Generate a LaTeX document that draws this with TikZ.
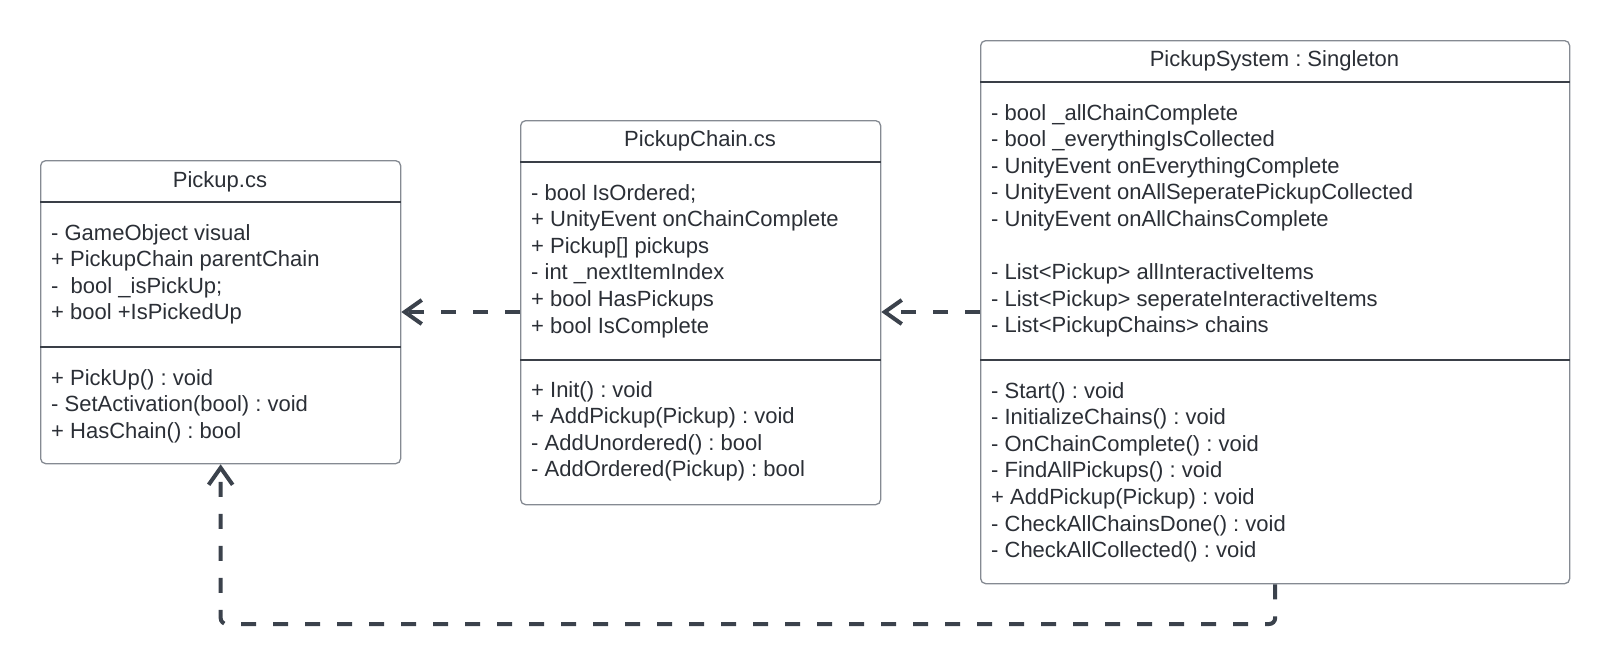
\documentclass[tikz,border=0pt]{standalone}
\usepackage{fontspec}
\setmainfont{Liberation Sans}
\usetikzlibrary{arrows.meta}
\frenchspacing
\definecolor{txtc}{HTML}{2B2F36}
\definecolor{bordc}{HTML}{858A92}
\definecolor{divc}{HTML}{3A3F47}
\definecolor{connc}{HTML}{3B424C}
\tikzset{
  umlbox/.style={draw=bordc, line width=1.3pt, rounded corners=5pt, rectangle, inner sep=0pt, anchor=north west, fill=white},
  divider/.style={draw=divc, line width=1.4pt},
  umltitle/.style={anchor=base, inner sep=0pt, text=txtc, font=\fontsize{22}{26.6}\selectfont\frenchspacing},
  umltext/.style={anchor=north west, inner sep=0pt, align=left, text=txtc, font=\fontsize{22}{26.6}\selectfont\frenchspacing},
  conn/.style={draw=connc, line width=4pt, dash pattern=on 15pt off 17pt, -{Straight Barb[length=17pt,width=24pt,line width=4pt]}},
}
\begin{document}
\begin{tikzpicture}[x=1pt,y=-1pt]
\useasboundingbox (0,0) rectangle (1609,665);
% boxes
\node[umlbox, minimum width=360pt, minimum height=303pt] (pickup) at (40,160) {};
\node[umlbox, minimum width=360pt, minimum height=384pt] (chain) at (520,120) {};
\node[umlbox, minimum width=589pt, minimum height=543pt] (system) at (980,40) {};
% dividers
\draw[divider] (pickup.west |- 0,202) -- (pickup.east |- 0,202);
\draw[divider] (pickup.west |- 0,347) -- (pickup.east |- 0,347);
\draw[divider] (chain.west |- 0,162) -- (chain.east |- 0,162);
\draw[divider] (chain.west |- 0,360) -- (chain.east |- 0,360);
\draw[divider] (system.west |- 0,82) -- (system.east |- 0,82);
\draw[divider] (system.west |- 0,360) -- (system.east |- 0,360);
% titles
\node[umltitle] (pickuptitle) at (220,187) {Pickup.cs};
\node[umltitle] (chaintitle) at (700,146) {PickupChain.cs};
\node[umltitle] (systemtitle) at (1274.5,66) {PickupSystem : Singleton};
% compartments
\node[umltext] (pickupattr) at (51,221.3) {\strut - GameObject visual\\
+ PickupChain parentChain\\
-\ \ bool \_isPickUp;\\
+ bool +IsPickedUp};
\node[umltext] (pickupops) at (51,366.3) {\strut + PickUp() : void\\
- SetActivation(bool) : void\\
+ HasChain() : bool};
\node[umltext] (chainattr) at (531,181.3) {\strut - bool IsOrdered;\\
+ UnityEvent onChainComplete\\
+ Pickup[] pickups\\
- int \_nextItemIndex\\
+ bool HasPickups\\
+ bool IsComplete};
\node[umltext] (chainops) at (531,378.3) {\strut + Init() : void\\
+ AddPickup(Pickup) : void\\
- AddUnordered() : bool\\
- AddOrdered(Pickup) : bool};
\node[umltext] (systemattr) at (991,101.3) {\strut - bool \_allChainComplete\\
- bool \_everythingIsCollected\\
- UnityEvent onEverythingComplete\\
- UnityEvent onAllSeperatePickupCollected\\
- UnityEvent onAllChainsComplete\\
\mbox{}\\
- List<Pickup> allInteractiveItems\\
- List<Pickup> seperateInteractiveItems\\
- List<PickupChains> chains};
\node[umltext] (systemops) at (991,379.3) {\strut - Start() : void\\
- InitializeChains() : void\\
- OnChainComplete() : void\\
- FindAllPickups() : void\\
+ AddPickup(Pickup) : void\\
- CheckAllChainsDone() : void\\
- CheckAllCollected() : void};
% connectors
\draw[conn] (chain.west |- 0,312) -- (pickup.east |- 0,312);
\draw[conn] (system.west |- 0,312) -- (chain.east |- 0,312);
\draw[conn, rounded corners=6pt] (system.south) -- (system.south |- 0,624) -- (pickup.south |- 0,624) -- (pickup.south);
\end{tikzpicture}
\end{document}
